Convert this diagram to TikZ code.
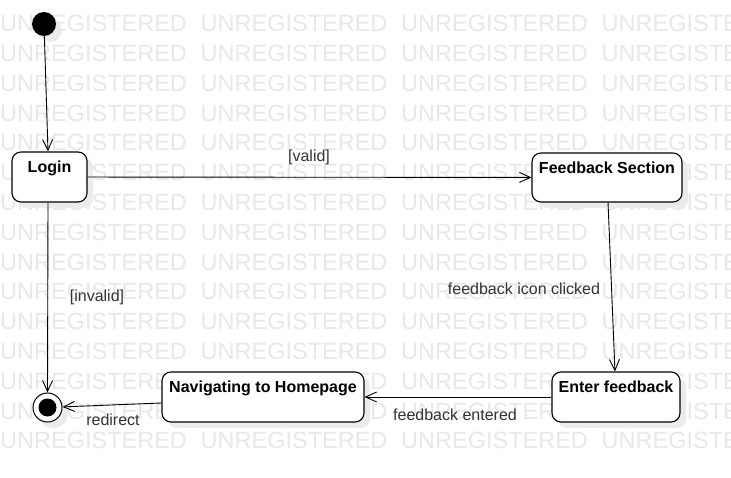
\documentclass[tikz,border=0pt]{standalone}
\usepackage{fontspec}
\setmainfont{Liberation Sans}
\usetikzlibrary{arrows.meta,shadows}
\begin{document}
\begin{tikzpicture}[x=1pt,y=-1pt,
  wm/.style={font=\fontsize{23.5}{24}\selectfont, text=black!9, inner sep=0pt, anchor=base west},
  shd/.style={drop shadow={shadow xshift=6pt, shadow yshift=-6pt, fill=black!8, opacity=1}},
  statebox/.style={draw=black, line width=1.1pt, fill=white, rounded corners=9pt, inner sep=0pt, shd},
  boxtext/.style={font=\fontsize{16}{19}\selectfont\bfseries, inner sep=0pt, anchor=north, yshift=-9pt},
  lbl/.style={font=\fontsize{16}{19}\selectfont, text=black!80, inner sep=0pt},
  conn/.style={draw, line width=0.9pt, -{Straight Barb[length=11pt,width=10pt]}}
]
\useasboundingbox (0,0) rectangle (731,478);
\clip (0,0) rectangle (731,478);
\fill[white] (0,0) rectangle (731,478);
% watermark
\foreach \r in {0,...,14}{
  \foreach \c in {0,...,3}{
    \node[wm] (wm-\r-\c) at ({\c*200.5}, {31.7+\r*29.8}) {UNREGISTERED};
  }
}
% states
\node[circle, fill=black, minimum size=24pt, inner sep=0pt, shd] (init) at (44,24) {};
\node[statebox, minimum width=75pt, minimum height=50pt,
  label={[boxtext]north:Login}] (login) at (49.5,177) {};
\node[statebox, minimum width=150pt, minimum height=49pt,
  label={[boxtext]north:Feedback Section}] (fs) at (607,177.5) {};
\node[statebox, minimum width=128pt, minimum height=50pt,
  label={[boxtext]north:Enter feedback}] (ef) at (616,397) {};
\node[statebox, minimum width=202pt, minimum height=50pt,
  label={[boxtext]north:Navigating to Homepage}] (nav) at (263,397) {};
\node[circle, draw=black, line width=1pt, fill=white, minimum size=29pt, inner sep=0pt, shd] (final) at (47.5,407.5) {};
\node[circle, fill=black, minimum size=18pt, inner sep=0pt] (finaldot) at (final) {};
% transitions
\draw[conn] (init) -- ([xshift=-1.5pt]login.north);
\draw[conn] (login) -- (fs);
\draw[conn] (fs) -- (ef);
\draw[conn] (ef) -- (nav);
\draw[conn] ([yshift=-6pt]nav.west) -- (final);
\draw[conn] ([xshift=-1.5pt]login.south) -- (final.north);
% labels
\node[lbl] (l-valid) at (309,157) {[valid]};
\node[lbl] (l-invalid) at (97,297) {[invalid]};
\node[lbl] (l-icon) at (524,289) {feedback icon clicked};
\node[lbl] (l-entered) at (455,415) {feedback entered};
\node[lbl] (l-redirect) at (113,420) {redirect};
\end{tikzpicture}
\end{document}
